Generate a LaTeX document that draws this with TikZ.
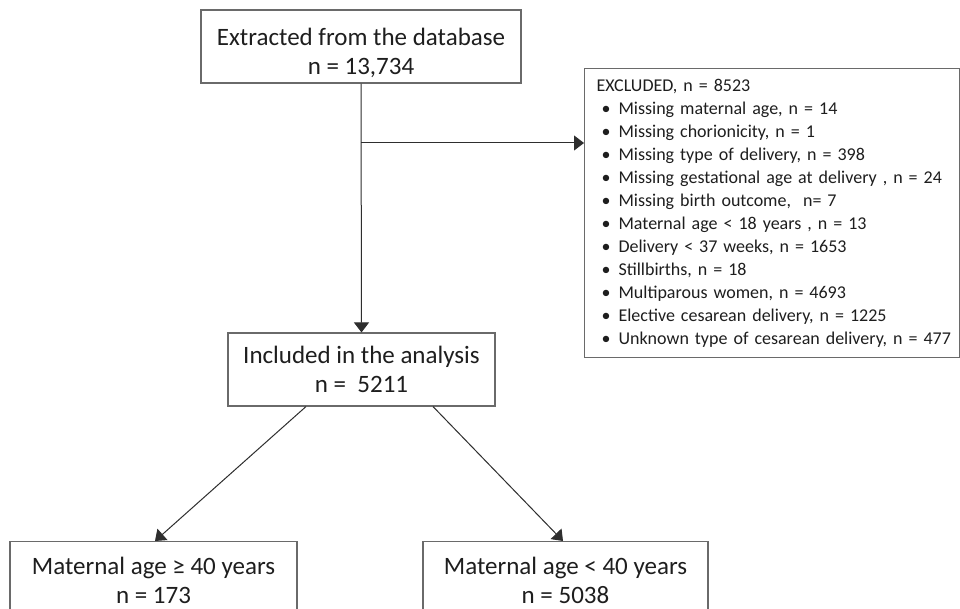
\documentclass[tikz,border=0pt]{standalone}
\usepackage{fontspec}
\setmainfont{Carlito}
\usetikzlibrary{arrows.meta,calc}
\definecolor{boxline}{HTML}{6A6A6A}
\definecolor{arrline}{HTML}{2E2E2E}
\definecolor{txt}{HTML}{1E1E1E}
\tikzset{
  box/.style={draw=boxline, line width=1.1pt, fill=white, text=txt, align=center,
    inner sep=0pt, font=\fontsize{25}{29}\selectfont},
  exbox/.style={draw=boxline, line width=1.1pt, fill=white, text=txt, align=left,
    inner sep=0pt, font=\fontsize{18}{23}\selectfont},
  arr/.style={draw=arrline, line width=1pt, -{Triangle[length=10pt,width=15pt]}},
}
\newcommand{\bitem}[1]{\hspace*{17pt}\makebox[17pt][l]{\textbullet}#1}
\begin{document}
\begin{tikzpicture}[x=1pt,y=-1pt]
\useasboundingbox (0,0) rectangle (960,609);
\clip (0,0) rectangle (960,609);
\fill[white] (0,0) rectangle (960,609);

\node[box, minimum width=320pt, minimum height=73pt] (top) at (361,46.5)
  {\rule{0pt}{30pt}Extracted from the database\\ n = 13,734};
\node[box, minimum width=267pt, minimum height=73pt] (inc) at (361.5,369.5)
  {Included in the analysis\\ n =\ \ 5211};
\node[exbox, minimum width=375pt, minimum height=289pt, text width=375pt,
  anchor=north west] (ex) at (584,68)
  {\hspace*{12pt}EXCLUDED, n = 8523\\
   \bitem{Missing maternal age, n = 14}\\
   \bitem{Missing chorionicity, n = 1}\\
   \bitem{Missing type of delivery, n = 398}\\
   \bitem{Missing gestational age at delivery , n = 24}\\
   \bitem{Missing birth outcome,\ \ n= 7}\\
   \bitem{Maternal age < 18 years , n = 13}\\
   \bitem{Delivery < 37 weeks, n = 1653}\\
   \bitem{Stillbirths, n = 18}\\
   \bitem{Multiparous women, n = 4693}\\
   \bitem{Elective cesarean delivery, n = 1225}\\
   \bitem{Unknown type of cesarean delivery, n = 477}};
\node[box, minimum width=287pt, minimum height=78pt, anchor=north] (lo) at (153.5,541)
  {Maternal age ≥ 40 years\\ n = 173};
\node[box, minimum width=285pt, minimum height=78pt, anchor=north] (ro) at (565.5,541)
  {Maternal age < 40 years\\ n = 5038};

\coordinate (br) at (361,143);
\draw[arr] (top.south) -- (inc.north);
\draw[arr] (br) -- (br -| ex.west);
\draw[arr] ($(inc.south)+(-55.5,0)$) -- ($(lo.north)+(1.5,0)$);
\draw[arr] ($(inc.south)+(71.5,0)$) -- ($(ro.north)+(-2.5,0)$);
\end{tikzpicture}
\end{document}
